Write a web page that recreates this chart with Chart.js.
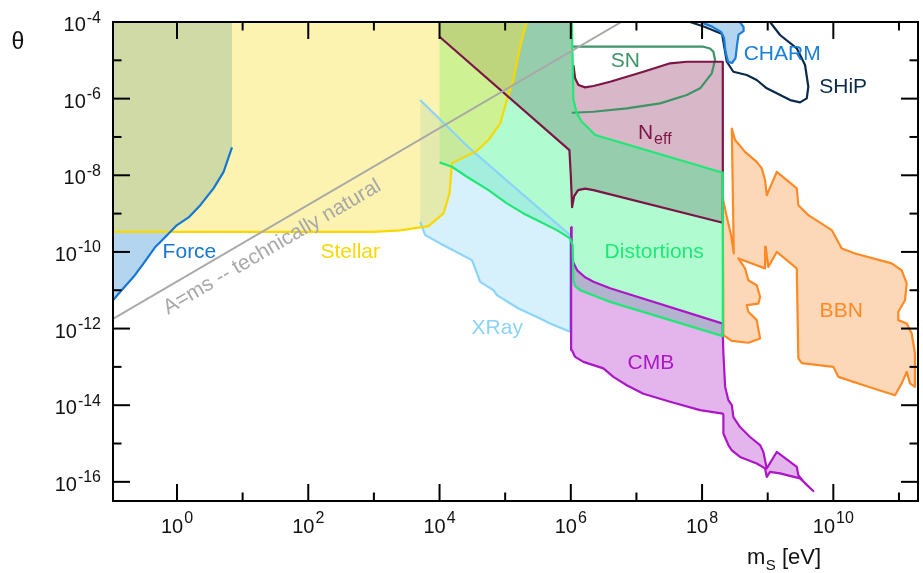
<!DOCTYPE html>
<html>
<head>
<meta charset="utf-8">
<script src="https://cdn.jsdelivr.net/npm/chart.js@4.4.1/dist/chart.umd.min.js"></script>
<style>
  html, body { margin: 0; padding: 0; background: #fff; }
  #wrap { position: relative; width: 923px; height: 573px; }
</style>
</head>
<body>
<div id="wrap"><canvas id="chart"></canvas></div>
<script>
// every point is [log10(m_S / eV), log10(theta)]
var xRange = [-0.975, 11.29];
var yRange = [-16.5, -4];
var xMajor = [0, 2, 4, 6, 8, 10];
var xMinor = [1, 3, 5, 7, 9, 11];
var yMajor = [-4, -6, -8, -10, -12, -14, -16];
var yMinor = [-5, -7, -9, -11, -13, -15];

var forceEdge = [[-1, -11.31], [-0.864, -11.04], [-0.661, -10.65], [-0.509, -10.30], [-0.33, -9.87],
  [-0.178, -9.61], [0, -9.30], [0.177, -9.10], [0.355, -8.78], [0.557, -8.34], [0.71, -7.91], [0.838, -7.27]];
var forceCorners = [[0.838, -4], [-1, -4]];

var stellarEdge = [[5.33, -4], [5.228, -4.645], [5.126, -5.514], [5.026, -6.037], [4.924, -6.645],
  [4.746, -7.081], [4.569, -7.36], [4.188, -7.689], [4.152, -8.473], [4.06, -8.995], [3.832, -9.326],
  [3.401, -9.439], [2.99, -9.475], [-1, -9.475]];
var stellarCorners = [[-1, -4]];

var xrayEdge = [[3.706, -6.037], [4.421, -7.238], [5.228, -8.439], [5.99, -9.561], [5.99, -12.086],
  [5.685, -11.867], [5.533, -11.736], [5.203, -11.475], [4.874, -11.128], [4.822, -10.997], [4.619, -10.781],
  [4.543, -10.431], [4.493, -10.214], [4.01, -9.778], [3.782, -9.561], [3.706, -9.214]];

var distEdge = [[6.016, -4], [6.04, -6.037], [6.092, -6.384], [6.168, -6.603], [6.269, -6.775], [6.371, -6.95],
  [8.316, -7.935], [8.316, -12.198], [6.599, -11.303], [6.397, -11.172], [6.142, -10.997], [6.066, -10.893],
  [6.04, -10.736], [6.028, -9.822], [5.99, -9.648], [5.787, -9.431], [5.533, -9.214], [5.279, -8.995],
  [5.026, -8.734], [4.746, -8.386], [4.417, -8.039], [4.188, -7.778], [4.0, -7.663]];
var distCorners = [[4.0, -4]];

var neffEdge = [[4.0, -4.384], [5.979, -7.342], [6.0, -8.0], [6.02, -8.83], [6.051, -8.543], [6.112, -8.386],
  [6.218, -8.347], [6.345, -8.386], [8.316, -9.24], [8.316, -5.037], [7.767, -5.037], [7.513, -5.078],
  [7.106, -5.298], [6.599, -5.559], [6.345, -5.671], [6.218, -5.705], [6.116, -5.645], [6.066, -5.47], [6.04, -5.123]];
var neffCorners = [[6.02, -4], [4.0, -4]];

var snCurve = [[6.016, -4.645], [6.853, -4.645], [7.665, -4.645], [8.02, -4.645], [8.122, -4.692], [8.172, -4.775],
  [8.198, -4.992], [8.148, -5.339], [7.97, -5.731], [7.767, -5.906], [7.361, -6.123], [6.853, -6.253],
  [6.345, -6.342], [6.016, -6.368]];

var charmOutline = [[7.97, -4], [8.579, -4.01], [8.632, -4.13], [8.632, -4.24], [8.556, -4.33], [8.533, -4.60],
  [8.51, -4.94], [8.457, -5.07], [8.396, -5.04], [8.358, -4.78], [8.335, -4.42], [8.29, -4.26], [8.153, -4.12], [8.016, -4.03]];

var shipCurve = [[7.818, -4], [8.046, -4.131], [8.305, -4.313], [8.377, -5.037], [8.477, -5.298], [8.681, -5.384],
  [8.833, -5.514], [8.986, -5.731], [9.138, -5.862], [9.341, -6.037], [9.493, -6.097], [9.595, -5.992],
  [9.619, -5.689], [9.569, -5.123], [9.443, -4.687], [9.188, -4.339], [9.036, -4]];

var bbnOutline = [[8.316, -8.60], [8.376, -9.08], [8.442, -9.56], [8.483, -10.04],
  [8.453, -6.78], [8.503, -7.08], [8.655, -7.39], [8.833, -7.65], [8.91, -7.82], [8.96, -8.13], [8.986, -8.52],
  [9.138, -7.91], [9.443, -8.34], [9.467, -8.78], [9.619, -9.04], [9.976, -9.43], [10.128, -9.91], [10.331, -10.04],
  [10.889, -10.30], [11.042, -10.48], [11.118, -10.82], [11.092, -11.26], [10.99, -11.56], [10.99, -11.78],
  [11.118, -11.87], [11.194, -12.13], [11.244, -12.65], [11.244, -13.52], [11.168, -13.43], [11.118, -13.13],
  [11.042, -13.43], [10.94, -13.74], [10.533, -13.52], [10.076, -13.26], [10.0, -13.0], [9.519, -12.90],
  [9.467, -12.78], [9.443, -10.43], [9.138, -10.0], [9.01, -10.39], [8.97, -9.87], [8.96, -10.43],
  [8.553, -10.17], [8.655, -10.43], [8.705, -10.74], [8.833, -10.87], [8.884, -11.17], [8.858, -11.35],
  [8.681, -11.39], [8.705, -11.56], [8.833, -11.78], [8.884, -12.26], [8.705, -12.37], [8.453, -12.32], [8.325, -12.17]];

var cmbOutline = [[6.005, -9.35], [6.013, -9.95], [6.036, -10.27], [6.097, -10.48], [6.218, -10.66], [6.345, -10.78],
  [6.599, -10.95], [8.316, -11.87], [8.316, -12.17], [8.325, -12.65], [8.351, -13.52], [8.401, -13.87],
  [8.453, -14.0], [8.477, -14.31], [8.579, -14.57], [8.731, -14.83], [8.884, -15.04], [8.934, -15.22],
  [8.986, -15.65], [9.138, -15.22], [9.443, -15.61], [9.467, -15.83], [9.569, -16.04], [9.695, -16.24],
  [9.493, -15.91], [9.188, -15.78], [9.036, -15.74], [8.986, -15.87], [8.96, -15.65], [8.833, -15.52],
  [8.579, -15.35], [8.453, -15.18], [8.401, -15.04], [8.325, -14.74], [8.325, -14.26], [8.316, -14.22],
  [7.97, -14.13], [7.513, -13.91], [7.106, -13.70], [6.853, -13.48], [6.649, -13.26], [6.497, -13.04],
  [6.193, -12.87], [6.066, -12.74], [6.016, -12.56]];

var naturalLine = [[-1, -11.77], [6.77, -4]];

var FONT = '"Liberation Sans", Arial, Helvetica, sans-serif';
var col = {
  force: '#1677d2', stellar: '#f8d800', xray: '#8ad4fa', dist: '#1fe874', neff: '#7c1545',
  cmb: '#ad16c6', bbn: '#fe8a26', charm: '#1a7fd8', sn: '#3d9467', ship: '#0b2a4b', natural: '#a8a8a8'
};

// text annotations, anchored in data units
var regionLabels = [
  ['Force', 0.19, -10.0, col.force],
  ['Stellar', 2.64, -10.0, col.stellar],
  ['XRay', 4.88, -11.99, col.xray],
  ['Distortions', 7.27, -10.0, col.dist],
  ['CMB', 7.22, -12.9, col.cmb],
  ['BBN', 10.12, -11.55, col.bbn],
  ['SN', 6.83, -5.02, col.sn],
  ['CHARM', 9.22, -4.84, col.charm],
  ['SHiP', 10.15, -5.70, col.ship]
];
var neffLabel = [7.272, -6.85];
var naturalLabel = ['A=ms -- technically natural', 1.451, -9.875];

function xy(arr) { return arr.map(function (p) { return { x: p[0], y: p[1] }; }); }
function area(points, color, order) {
  return { data: xy(points), fill: 'shape', backgroundColor: color, borderWidth: 0, pointRadius: 0, order: order };
}
function edge(points, color, order, width) {
  return { data: xy(points), fill: false, borderColor: color, borderWidth: width || 2.2,
    borderJoinStyle: 'round', pointRadius: 0, order: order };
}
function closed(arr) { return arr.concat([arr[0]]); }

var datasets = [
  area(forceEdge.concat(forceCorners), 'rgba(5,115,205,0.3)', 20),
  area(neffEdge.concat(neffCorners), 'rgba(144,52,98,0.35)', 19),
  area(distCorners.concat(distEdge), 'rgba(29,246,121,0.35)', 18),
  area(xrayEdge, 'rgba(141,213,247,0.36)', 17),
  area(cmbOutline, 'rgba(184,58,205,0.38)', 16),
  area(bbnOutline, 'rgba(249,144,52,0.35)', 15),
  edge(shipCurve, col.ship, 14.5),
  area(charmOutline, 'rgba(5,115,205,0.3)', 14),
  area(stellarCorners.concat(stellarEdge), 'rgba(250,225,58,0.4)', 13),
  edge(forceEdge, col.force, 6),
  edge(stellarEdge, col.stellar, 6),
  edge(xrayEdge, col.xray, 6),
  edge(distEdge, col.dist, 5),
  edge(neffEdge, col.neff, 5),
  edge(snCurve, col.sn, 5),
  edge(closed(cmbOutline), col.cmb, 5),
  edge(closed(bbnOutline), col.bbn, 5),
  edge(charmOutline.slice(1).concat([charmOutline[0]]), col.charm, 5),
  edge(naturalLine, col.natural, 1, 2)
];

function power(ctx, exp, x, base, bigSize, smallSize, rise, align) {
  ctx.font = bigSize + 'px ' + FONT;
  var wb = ctx.measureText('10').width;
  ctx.font = smallSize + 'px ' + FONT;
  var we = ctx.measureText(exp).width;
  var x0 = align === 'right' ? x - wb - we - 1 : x - (wb + we + 1) / 2;
  ctx.textAlign = 'left';
  ctx.textBaseline = 'alphabetic';
  ctx.font = bigSize + 'px ' + FONT;
  ctx.fillText('10', x0, base);
  ctx.font = smallSize + 'px ' + FONT;
  ctx.fillText(exp, x0 + wb + 1, base - rise);
}

var decor = {
  id: 'decor',
  afterDatasetsDraw: function (chart) {
    var ctx = chart.ctx, a = chart.chartArea, sx = chart.scales.x, sy = chart.scales.y;
    ctx.save();

    // region names
    ctx.textAlign = 'center';
    ctx.textBaseline = 'middle';
    ctx.font = '21px ' + FONT;
    regionLabels.forEach(function (l) {
      ctx.fillStyle = l[3];
      ctx.fillText(l[0], sx.getPixelForValue(l[1]), sy.getPixelForValue(l[2]));
    });

    // N_eff
    var nx = sx.getPixelForValue(neffLabel[0]), ny = sy.getPixelForValue(neffLabel[1]);
    ctx.font = '21px ' + FONT;
    var wn = ctx.measureText('N').width;
    ctx.font = '16px ' + FONT;
    var we = ctx.measureText('eff').width;
    ctx.fillStyle = col.neff;
    ctx.textAlign = 'left';
    ctx.textBaseline = 'alphabetic';
    ctx.font = '21px ' + FONT;
    ctx.fillText('N', nx - (wn + we) / 2, ny + 7.5);
    ctx.font = '16px ' + FONT;
    ctx.fillText('eff', nx - (wn + we) / 2 + wn + 1, ny + 12.5);

    // rotated note along the grey line
    var p0x = sx.getPixelForValue(naturalLine[0][0]), p0y = sy.getPixelForValue(naturalLine[0][1]);
    var p1x = sx.getPixelForValue(naturalLine[1][0]), p1y = sy.getPixelForValue(naturalLine[1][1]);
    ctx.translate(sx.getPixelForValue(naturalLabel[1]), sy.getPixelForValue(naturalLabel[2]));
    ctx.rotate(Math.atan2(p1y - p0y, p1x - p0x));
    ctx.fillStyle = col.natural;
    ctx.font = '21px ' + FONT;
    ctx.textAlign = 'center';
    ctx.textBaseline = 'middle';
    ctx.fillText(naturalLabel[0], 0, 0);
    ctx.setTransform(1, 0, 0, 1, 0, 0);

    // frame with inward ticks on all sides
    ctx.strokeStyle = '#000';
    ctx.lineWidth = 2;
    ctx.strokeRect(a.left, a.top, a.right - a.left, a.bottom - a.top);
    function seg(x1, y1, x2, y2) { ctx.beginPath(); ctx.moveTo(x1, y1); ctx.lineTo(x2, y2); ctx.stroke(); }
    function xt(v, len) {
      var p = sx.getPixelForValue(v);
      if (p <= a.left || p >= a.right) return;
      seg(p, a.bottom, p, a.bottom - len); seg(p, a.top, p, a.top + len);
    }
    function yt(v, len) {
      var p = sy.getPixelForValue(v);
      if (p <= a.top || p >= a.bottom) return;
      seg(a.left, p, a.left + len, p); seg(a.right, p, a.right - len, p);
    }
    xMajor.forEach(function (v) { xt(v, 17); });
    xMinor.forEach(function (v) { xt(v, 8.5); });
    yMajor.forEach(function (v) { yt(v, 17); });
    yMinor.forEach(function (v) { yt(v, 8.5); });

    // tick labels
    ctx.fillStyle = '#111';
    xMajor.forEach(function (v) {
      power(ctx, String(v), sx.getPixelForValue(v), a.bottom + 32, 20, 16, 10, 'center');
    });
    yMajor.forEach(function (v) {
      power(ctx, String(v), 101, sy.getPixelForValue(v) + 9, 20, 16, 8.5, 'right');
    });

    // axis titles
    ctx.textAlign = 'center';
    ctx.textBaseline = 'middle';
    ctx.font = '23px ' + FONT;
    ctx.fillText('\u03b8', 18, 43);
    ctx.textAlign = 'left';
    ctx.textBaseline = 'alphabetic';
    ctx.font = '22px ' + FONT;
    ctx.fillText('m', 747, 563.5);
    var wm = ctx.measureText('m').width;
    ctx.font = '15px ' + FONT;
    ctx.fillText('S', 747 + wm + 0.5, 569.5);
    var ws = ctx.measureText('S').width;
    ctx.font = '22px ' + FONT;
    ctx.fillText(' [eV]', 747 + wm + ws + 0.5, 563.5);

    ctx.restore();
  }
};

new Chart(document.getElementById('chart').getContext('2d'), {
  type: 'line',
  data: { datasets: datasets },
  options: {
    responsive: true,
    maintainAspectRatio: false,
    animation: false,
    events: [],
    layout: { padding: { left: 113, right: 5, top: 22, bottom: 72 } },
    scales: {
      x: { type: 'linear', min: xRange[0], max: xRange[1], display: false },
      y: { type: 'linear', min: yRange[0], max: yRange[1], display: false }
    },
    plugins: { legend: { display: false }, tooltip: { enabled: false } }
  },
  plugins: [decor]
});
</script>
</body>
</html>
